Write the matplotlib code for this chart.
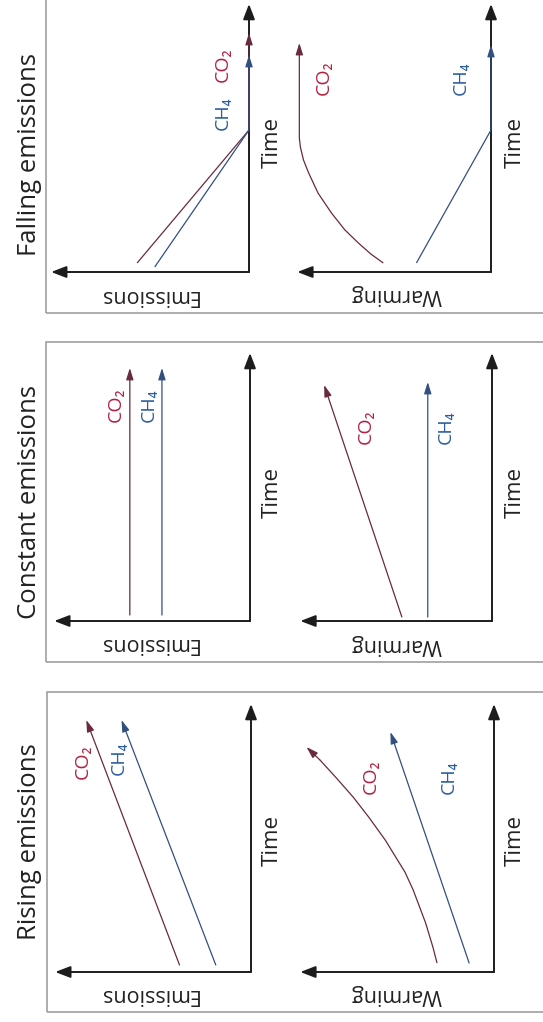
import matplotlib
matplotlib.use("Agg")
import matplotlib.pyplot as plt
from matplotlib.patches import Rectangle

W, H = 543, 1022  # output size in px
plt.rcParams['font.family'] = ['Open Sans', 'DejaVu Sans']

CO2_LINE = "#6a2a3e"
CO2_TEXT = "#b3203f"
CH4_LINE = "#32507f"
CH4_TEXT = "#2b5d9c"
AXIS = "#1c1c1c"
SX = 1.036  # px per data unit, horizontal

# values (emissions / warming against time, arbitrary units)
# Falling emissions
fall_em_co2_val = [108, 0, 0]
fall_em_co2_t = [9, 142, 239]
fall_em_ch4_val = [91, 0, 0]
fall_em_ch4_t = [5, 142, 217]
fall_wa_co2_val = [104, 116, 128, 141, 154, 167, 176, 181, 184, 185, 185]
fall_wa_co2_t = [9, 18, 29, 42, 59, 79, 99, 112, 125, 134, 229]
fall_wa_ch4_val = [72, 0, 0]
fall_wa_ch4_t = [9, 142, 227]

# Constant emissions
const_em_co2_val = [116, 116]
const_em_co2_t = [6, 253]
const_em_ch4_val = [85, 85]
const_em_ch4_t = [6, 253]
const_wa_co2_val = [87, 162]
const_wa_co2_t = [4, 236]
const_wa_ch4_val = [62, 62]
const_wa_ch4_t = [4, 239]

# Rising emissions
rise_em_co2_val = [69, 159]
rise_em_co2_t = [7, 252]
rise_em_ch4_val = [34, 125]
rise_em_ch4_t = [7, 252]
rise_wa_co2_val = [55, 59, 66, 78, 86, 105, 121, 136, 153, 168, 181]
rise_wa_co2_t = [9, 25, 49, 82, 100, 132, 155, 175, 195, 212, 225]
rise_wa_ch4_val = [24, 100]
rise_wa_ch4_t = [9, 240]

panel_titles = ["Falling emissions", "Constant emissions", "Rising emissions"]

fig = plt.figure(figsize=(W / 100, H / 100), dpi=100)
fig.patch.set_facecolor("white")


def ftext(x, y, s, **kw):
    fig.text(x / W, 1 - y / H, s, ha="center", va="center", **kw)


def make_ax(ox, oy, span_v, span_t=268):
    # time runs upward, the quantity runs to the left (figure is turned on its side)
    w = span_v * SX
    ax = fig.add_axes([(ox - w) / W, (H - oy) / H, w / W, span_t / H])
    ax.set_xlim(span_v, 0)
    ax.set_ylim(0, span_t)
    ax.axis("off")
    ap = dict(arrowstyle="-|>,head_length=0.65,head_width=0.25", color=AXIS,
              lw=1.4, shrinkA=0, shrinkB=0, mutation_scale=14)
    ax.annotate("", xy=(span_v, 0), xytext=(0, 0), arrowprops=ap, annotation_clip=False)
    ax.annotate("", xy=(0, span_t), xytext=(0, 0), arrowprops=ap, annotation_clip=False)
    return ax


def series(ax, vals, ts, color):
    ax.plot(vals[:-1], ts[:-1], color=color, lw=0.9, clip_on=False,
            solid_capstyle="butt", solid_joinstyle="round", zorder=3)
    ap = dict(arrowstyle="-|>,head_length=0.7,head_width=0.22", color=color,
              lw=0.9, shrinkA=0, shrinkB=0, mutation_scale=10)
    ax.annotate("", xy=(vals[-1], ts[-1]), xytext=(vals[-2], ts[-2]),
                arrowprops=ap, annotation_clip=False, zorder=3)


# panel boxes
for (x0, y0, x1, y1) in [(46, -5, 548, 313), (46, 342, 548, 662), (47, 692, 548, 1012)]:
    fig.patches.append(Rectangle((x0 / W, 1 - y1 / H), (x1 - x0) / W, (y1 - y0) / H,
                                 transform=fig.transFigure, fill=False,
                                 edgecolor="#a0a0a0", lw=1.2))

# Falling
ax = make_ax(249, 272, 191)
series(ax, fall_em_co2_val, fall_em_co2_t, CO2_LINE)
series(ax, fall_em_ch4_val, fall_em_ch4_t, CH4_LINE)
ax = make_ax(491, 272, 187)
series(ax, fall_wa_co2_val, fall_wa_co2_t, CO2_LINE)
series(ax, fall_wa_ch4_val, fall_wa_ch4_t, CH4_LINE)

# Constant
ax = make_ax(250, 621, 189)
series(ax, const_em_co2_val, const_em_co2_t, CO2_LINE)
series(ax, const_em_ch4_val, const_em_ch4_t, CH4_LINE)
ax = make_ax(492, 621, 185)
series(ax, const_wa_co2_val, const_wa_co2_t, CO2_LINE)
series(ax, const_wa_ch4_val, const_wa_ch4_t, CH4_LINE)

# Rising
ax = make_ax(251, 972, 189)
series(ax, rise_em_co2_val, rise_em_co2_t, CO2_LINE)
series(ax, rise_em_ch4_val, rise_em_ch4_t, CH4_LINE)
ax = make_ax(494, 972, 187)
series(ax, rise_wa_co2_val, rise_wa_co2_t, CO2_LINE)
series(ax, rise_wa_ch4_val, rise_wa_ch4_t, CH4_LINE)

# titles and axis names
for title, y in zip(panel_titles, [155, 502, 842]):
    ftext(30, y, title, rotation=90, fontsize=18.5, color="#222222")
for y_time, y_name in [(142, 295), (492, 644), (840, 994)]:
    ftext(272, y_time, "Time", rotation=90, fontsize=16, color="#222222")
    ftext(515, y_time, "Time", rotation=90, fontsize=16, color="#222222")
    ftext(148, y_name, "Emissions", rotation=180, fontsize=15.5, color="#222222")
    ftext(396, y_name, "Warming", rotation=180, fontsize=15.5, color="#222222")

# gas labels
gas_labels = [
    (223, 65, "CO₂", CO2_TEXT), (223, 113, "CH₄", CH4_TEXT),
    (324, 78, "CO₂", CO2_TEXT), (461, 78, "CH₄", CH4_TEXT),
    (116, 405, "CO₂", CO2_TEXT), (149, 405, "CH₄", CH4_TEXT),
    (366, 427, "CO₂", CO2_TEXT), (446, 427, "CH₄", CH4_TEXT),
    (83, 762, "CO₂", CO2_TEXT), (119, 758, "CH₄", CH4_TEXT),
    (371, 777, "CO₂", CO2_TEXT), (449, 777, "CH₄", CH4_TEXT),
]
for x, y, s, c in gas_labels:
    ftext(x, y, s, rotation=90, fontsize=14, color=c)

fig.savefig("out.png", dpi=100)
